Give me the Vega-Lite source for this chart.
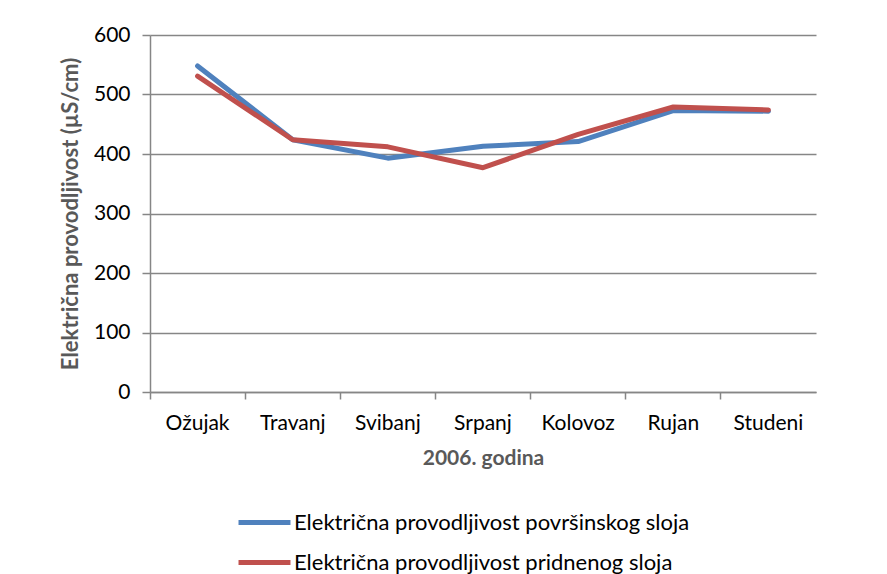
{
  "$schema": "https://vega.github.io/schema/vega-lite/v6.json",
  "width": 666,
  "height": 357,
  "autosize": {"type": "none"},
  "padding": {"left": 150, "top": 35, "right": 71, "bottom": 182},
  "background": "white",
  "data": {
    "values": [
      {"mjesec": "Ožujak", "sloj": "Električna provodljivost površinskog sloja", "vrijednost": 548},
      {"mjesec": "Travanj", "sloj": "Električna provodljivost površinskog sloja", "vrijednost": 424},
      {"mjesec": "Svibanj", "sloj": "Električna provodljivost površinskog sloja", "vrijednost": 393},
      {"mjesec": "Srpanj", "sloj": "Električna provodljivost površinskog sloja", "vrijednost": 413},
      {"mjesec": "Kolovoz", "sloj": "Električna provodljivost površinskog sloja", "vrijednost": 421},
      {"mjesec": "Rujan", "sloj": "Električna provodljivost površinskog sloja", "vrijednost": 473},
      {"mjesec": "Studeni", "sloj": "Električna provodljivost površinskog sloja", "vrijednost": 472},
      {"mjesec": "Ožujak", "sloj": "Električna provodljivost pridnenog sloja", "vrijednost": 531},
      {"mjesec": "Travanj", "sloj": "Električna provodljivost pridnenog sloja", "vrijednost": 424},
      {"mjesec": "Svibanj", "sloj": "Električna provodljivost pridnenog sloja", "vrijednost": 412},
      {"mjesec": "Srpanj", "sloj": "Električna provodljivost pridnenog sloja", "vrijednost": 377},
      {"mjesec": "Kolovoz", "sloj": "Električna provodljivost pridnenog sloja", "vrijednost": 433},
      {"mjesec": "Rujan", "sloj": "Električna provodljivost pridnenog sloja", "vrijednost": 479},
      {"mjesec": "Studeni", "sloj": "Električna provodljivost pridnenog sloja", "vrijednost": 474}
    ]
  },
  "mark": {"type": "line", "strokeWidth": 5, "strokeCap": "round", "strokeJoin": "round"},
  "encoding": {
    "x": {
      "field": "mjesec",
      "type": "ordinal",
      "sort": ["Ožujak", "Travanj", "Svibanj", "Srpanj", "Kolovoz", "Rujan", "Studeni"],
      "scale": {"type": "band", "paddingInner": 0, "paddingOuter": 0},
      "title": "2006. godina",
      "axis": {
        "bandPosition": 0,
        "labelAngle": 0,
        "labelAlign": "center",
        "labelFontSize": 21,
        "labelColor": "#000000",
        "labelPadding": 13,
        "titleFontSize": 21,
        "titleFontWeight": "bold",
        "titleColor": "#595959",
        "titlePadding": 14,
        "domainColor": "#868686",
        "domainWidth": 1.5,
        "tickColor": "#868686",
        "tickWidth": 1.5,
        "tickSize": 7,
        "grid": false
      }
    },
    "y": {
      "field": "vrijednost",
      "type": "quantitative",
      "scale": {"domain": [0, 600], "nice": false},
      "title": "Električna provodljivost  (µS/cm)",
      "axis": {
        "values": [0, 100, 200, 300, 400, 500, 600],
        "labelFontSize": 21,
        "labelColor": "#000000",
        "labelPadding": 12,
        "titleFontSize": 22,
        "titleFontWeight": "bold",
        "titleColor": "#595959",
        "titlePadding": 11,
        "domainColor": "#868686",
        "domainWidth": 1.5,
        "tickColor": "#868686",
        "tickWidth": 1.5,
        "tickSize": 8,
        "gridColor": "#868686",
        "gridWidth": 1.5
      }
    },
    "color": {
      "field": "sloj",
      "type": "nominal",
      "scale": {
        "domain": ["Električna provodljivost površinskog sloja", "Električna provodljivost pridnenog sloja"],
        "range": ["#4F81BD", "#C0504D"]
      },
      "legend": {
        "title": null,
        "orient": "none",
        "legendX": 86,
        "legendY": 459,
        "direction": "vertical",
        "symbolType": "stroke",
        "symbolSize": 2700,
        "symbolStrokeWidth": 5,
        "labelFontSize": 22,
        "labelColor": "#000000",
        "labelOffset": 1,
        "labelLimit": 0,
        "rowPadding": -10
      }
    }
  },
  "config": {
    "font": "Lato",
    "view": {"stroke": null}
  }
}
